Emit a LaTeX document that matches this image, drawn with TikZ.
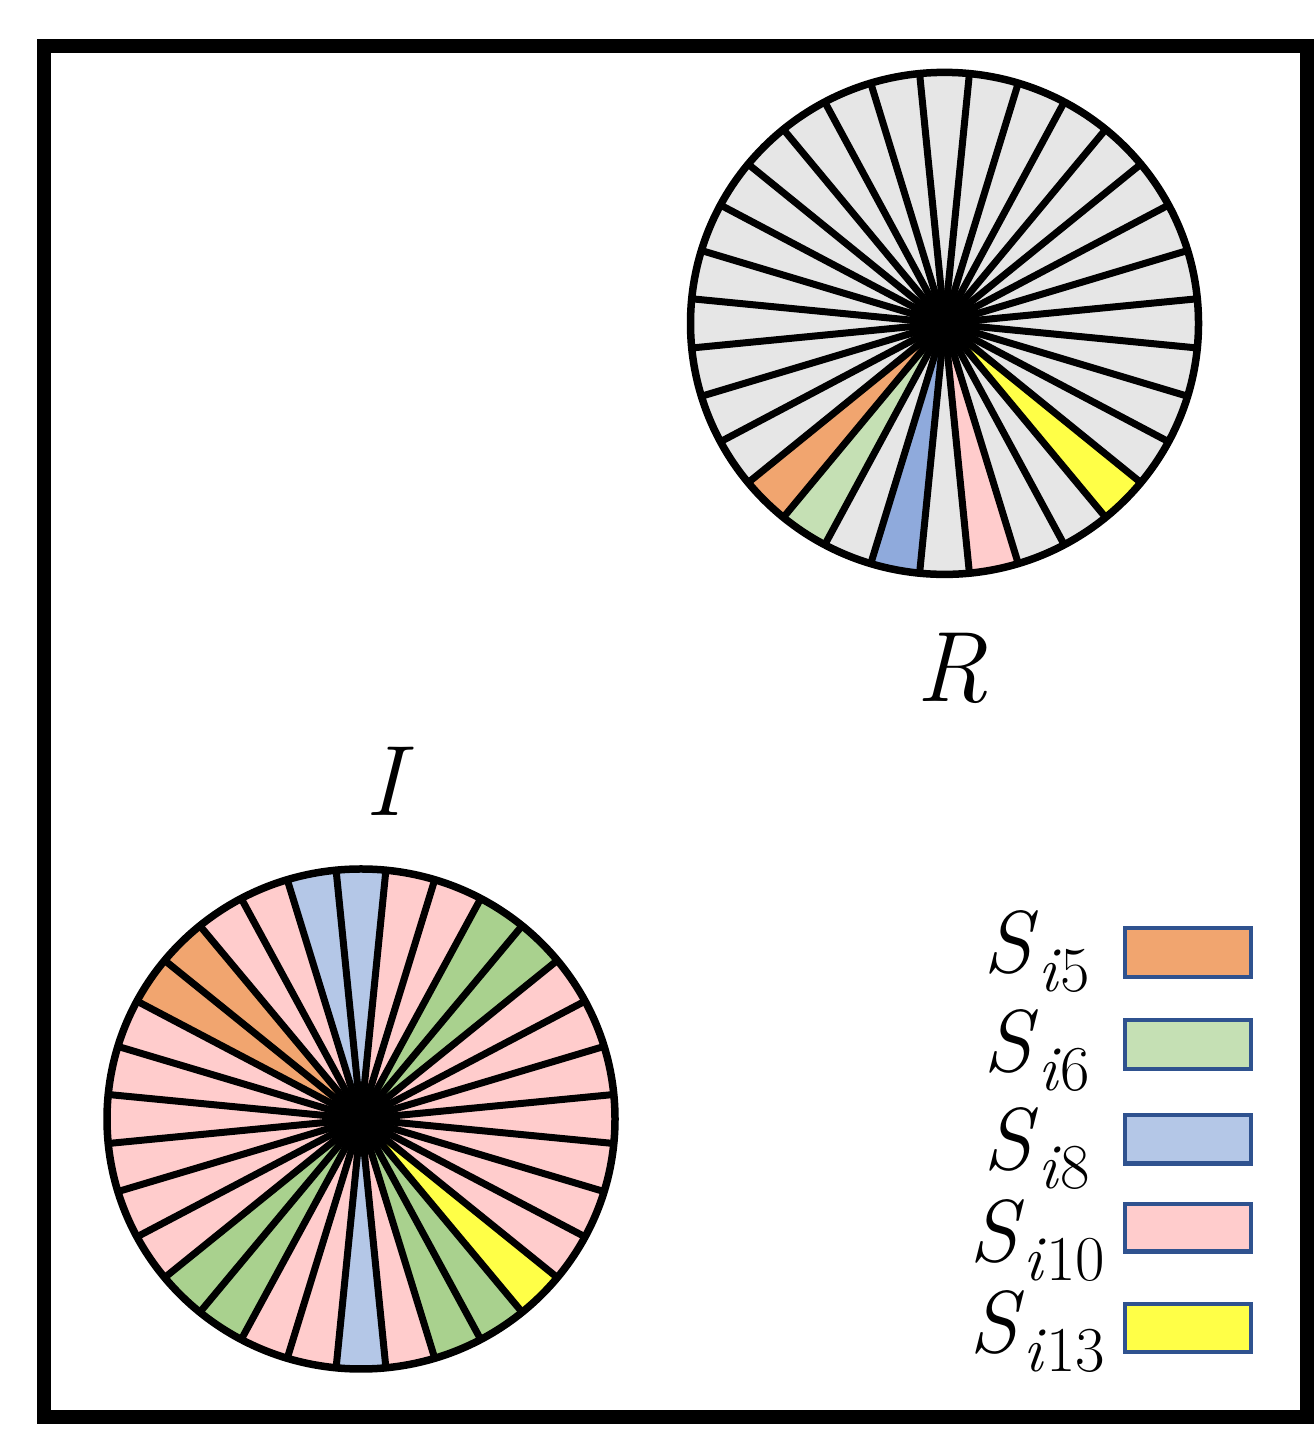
\documentclass[tikz,border=0pt]{standalone}
\definecolor{cOr}{RGB}{241,165,111}
\definecolor{cGl}{RGB}{197,224,180}
\definecolor{cGd}{RGB}{169,209,142}
\definecolor{cBd}{RGB}{143,170,220}
\definecolor{cBl}{RGB}{180,199,231}
\definecolor{cPk}{RGB}{255,204,204}
\definecolor{cYe}{RGB}{255,255,71}
\definecolor{cGy}{RGB}{230,230,230}
\definecolor{cFr}{RGB}{47,82,143}
\newcommand{\sublab}[1]{\textit{S}\raisebox{-19pt}{\fontsize{64}{64}\selectfont\textit{i}#1}}
\tikzset{
  spoke/.style={line width=7pt, black},
  rim/.style={line width=7.5pt, black},
  frame/.style={line width=14pt, black},
  legbox/.style={line width=4.5pt, draw=cFr},
  biglab/.style={font=\fontsize{100}{100}\selectfont\itshape, inner sep=0pt, anchor=base},
  leglab/.style={font=\fontsize{88}{88}\selectfont, inner sep=0pt, anchor=base}
}
\begin{document}
\begin{tikzpicture}[x=1pt,y=1pt]
\useasboundingbox (0,0) rectangle (1314,1442);
\fill[white] (0,0) rectangle (1314,1442);
\draw[frame] (44,25) rectangle (1307,1395.5);
% R wheel
\coordinate (Rc) at (944.5,1118.6);
\foreach \c [count=\k from 0] in {cGy,cGy,cGy,cGy,cGy,cGy,cGy,cGy,cGy,cGy,cGy,cGy,cGy,cGy,cGy,cGy,cGy,cGy,cGy,cGy,cOr,cGl,cGy,cBd,cGy,cPk,cGy,cGy,cYe,cGy,cGy,cGy} {
  \fill[\c] (Rc) -- ++({\k*11.25-5.625}:254 and 251) arc[start angle={\k*11.25-5.625}, delta angle=11.25, x radius=254, y radius=251] -- cycle;
}
\foreach \k in {0,...,31} \draw[spoke] (Rc) -- ++({\k*11.25-5.625}:254 and 251);
\fill[black] (Rc) circle[radius=25];
\draw[rim] (Rc) ellipse[x radius=254, y radius=251];
% I wheel
\coordinate (Ic) at (361,323);
\foreach \c [count=\k from 0] in {cPk,cPk,cPk,cPk,cGd,cGd,cPk,cPk,cBl,cBl,cPk,cPk,cOr,cOr,cPk,cPk,cPk,cPk,cPk,cPk,cGd,cGd,cPk,cPk,cBl,cPk,cGd,cGd,cYe,cPk,cPk,cPk} {
  \fill[\c] (Ic) -- ++({\k*11.25-5.625}:254 and 250) arc[start angle={\k*11.25-5.625}, delta angle=11.25, x radius=254, y radius=250] -- cycle;
}
\foreach \k in {0,...,31} \draw[spoke] (Ic) -- ++({\k*11.25-5.625}:254 and 250);
\fill[black] (Ic) circle[radius=25];
\draw[rim] (Ic) ellipse[x radius=254, y radius=250];
% labels
\node[biglab] (Rlab) at (952,740) {R};
\node[biglab] (Ilab) at (384,626) {I};
% legend
\draw[legbox, fill=cOr] (1125,465) rectangle (1251,513.8);
\draw[legbox, fill=cGl] (1125,373) rectangle (1251,422);
\draw[legbox, fill=cBl] (1125,278.3) rectangle (1251,327);
\draw[legbox, fill=cPk] (1125,190.3) rectangle (1251,238);
\draw[legbox, fill=cYe] (1125,90) rectangle (1251,138);
\node[leglab] (L5) at (1037,469) {\sublab{5}};
\node[leglab] (L6) at (1037,370) {\sublab{6}};
\node[leglab] (L8) at (1037,272) {\sublab{8}};
\node[leglab] (L10) at (1037,180) {\sublab{10}};
\node[leglab] (L13) at (1037,89) {\sublab{13}};
\end{tikzpicture}
\end{document}
